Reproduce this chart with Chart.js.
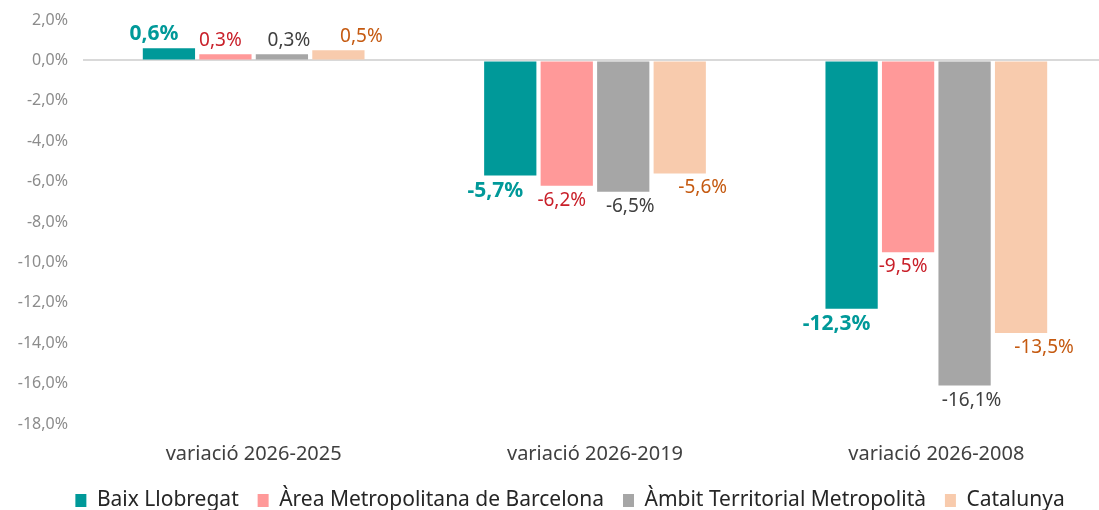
<!DOCTYPE html>
<html>
<head>
<meta charset="utf-8">
<script src="https://cdn.jsdelivr.net/npm/chart.js@4/dist/chart.umd.min.js"></script>
<style>
  body { margin: 0; background: #fff; overflow: hidden; }
  #wrap { width: 1107px; height: 510px; position: relative; }
</style>
</head>
<body>
<div id="wrap"><canvas id="myChart"></canvas></div>
<script>
var categories = ['variació 2026-2025', 'variació 2026-2019', 'variació 2026-2008'];
var seriesNames = ['Baix Llobregat', 'Àrea Metropolitana de Barcelona', 'Àmbit Territorial Metropolità', 'Catalunya'];
var baixLlobregat = [0.6, -5.7, -12.3];
var areaMetropolitana = [0.3, -6.2, -9.5];
var ambitTerritorial = [0.3, -6.5, -16.1];
var catalunya = [0.5, -5.6, -13.5];
var yTicks = [2, 0, -2, -4, -6, -8, -10, -12, -14, -16, -18];

function pct(v) {
  return v.toFixed(1).replace('.', ',') + '%';
}

// value labels, drawn like Excel's data labels (shifted a bit sideways)
var valueLabels = {
  id: 'valueLabels',
  afterDatasetsDraw: function(chart) {
    var c = chart.ctx;
    chart.data.datasets.forEach(function(ds, i) {
      var meta = chart.getDatasetMeta(i);
      meta.data.forEach(function(bar, j) {
        var v = ds.data[j];
        c.save();
        c.font = (ds.labelBold ? 'bold ' : '') + ds.labelSize + 'px "Noto Sans"';
        c.fillStyle = ds.labelColor;
        c.textAlign = 'center';
        var x = bar.x + ds.labelDx;
        if (v >= 0) {
          c.textBaseline = 'bottom';
          c.fillText(pct(v), x, bar.y - 4);
        } else {
          c.textBaseline = 'top';
          c.fillText(pct(v), x, bar.y + 5);
        }
        c.restore();
      });
    });
  }
};

// nudge the legend to where Excel put it
var shiftLegend = {
  id: 'shiftLegend',
  afterLayout: function(chart) {
    chart.legend.left += 22;
    chart.legend.right += 22;
    chart.legend.top += 6;
    chart.legend.bottom += 6;
  }
};

var ctx = document.getElementById('myChart').getContext('2d');
var chart = new Chart(ctx, {
  type: 'bar',
  data: {
    labels: categories,
    datasets: [
      { label: seriesNames[0], data: baixLlobregat, backgroundColor: '#009999',
        labelColor: '#009999', labelBold: true, labelSize: 21, labelDx: -15 },
      { label: seriesNames[1], data: areaMetropolitana, backgroundColor: '#FF9999',
        labelColor: '#C9202A', labelBold: false, labelSize: 19, labelDx: -5 },
      { label: seriesNames[2], data: ambitTerritorial, backgroundColor: '#A6A6A6',
        labelColor: '#404040', labelBold: false, labelSize: 19, labelDx: 7 },
      { label: seriesNames[3], data: catalunya, backgroundColor: '#F8CBAD',
        labelColor: '#C55A11', labelBold: false, labelSize: 19, labelDx: 23 }
    ]
  },
  options: {
    responsive: true,
    maintainAspectRatio: false,
    animation: false,
    layout: { padding: { top: 20, right: 0, bottom: -5, left: 0 } },
    datasets: {
      bar: { categoryPercentage: 0.662, barPercentage: 0.925 }
    },
    scales: {
      x: {
        grid: { display: false },
        border: { display: false },
        ticks: { color: '#404040', font: { family: 'Noto Sans', size: 20 }, padding: 10 }
      },
      y: {
        min: -18,
        max: 2,
        afterBuildTicks: function(s) { s.ticks = yTicks.map(function(v) { return { value: v }; }); },
        afterFit: function(s) { s.width = 83; s.paddingTop = 0; s.paddingBottom = 0; },
        border: { display: false },
        grid: {
          drawTicks: false,
          lineWidth: 2,
          color: function(c) { return c.tick && c.tick.value === 0 ? '#D9D9D9' : 'rgba(0,0,0,0)'; }
        },
        ticks: {
          color: '#8C8C8C',
          font: { family: 'Noto Sans', size: 16 },
          padding: 15,
          callback: function(v) { return pct(v); }
        }
      }
    },
    plugins: {
      legend: {
        position: 'bottom',
        labels: {
          color: '#262626',
          font: { family: 'Noto Sans', size: 21 },
          boxWidth: 11,
          boxHeight: 13,
          padding: 8,
          generateLabels: function(chart) {
            var items = Chart.defaults.plugins.legend.labels.generateLabels(chart);
            items.forEach(function(it) { it.text = it.text + '  '; });
            return items;
          }
        }
      },
      tooltip: { enabled: false }
    }
  },
  plugins: [valueLabels, shiftLegend]
});
</script>
</body>
</html>
